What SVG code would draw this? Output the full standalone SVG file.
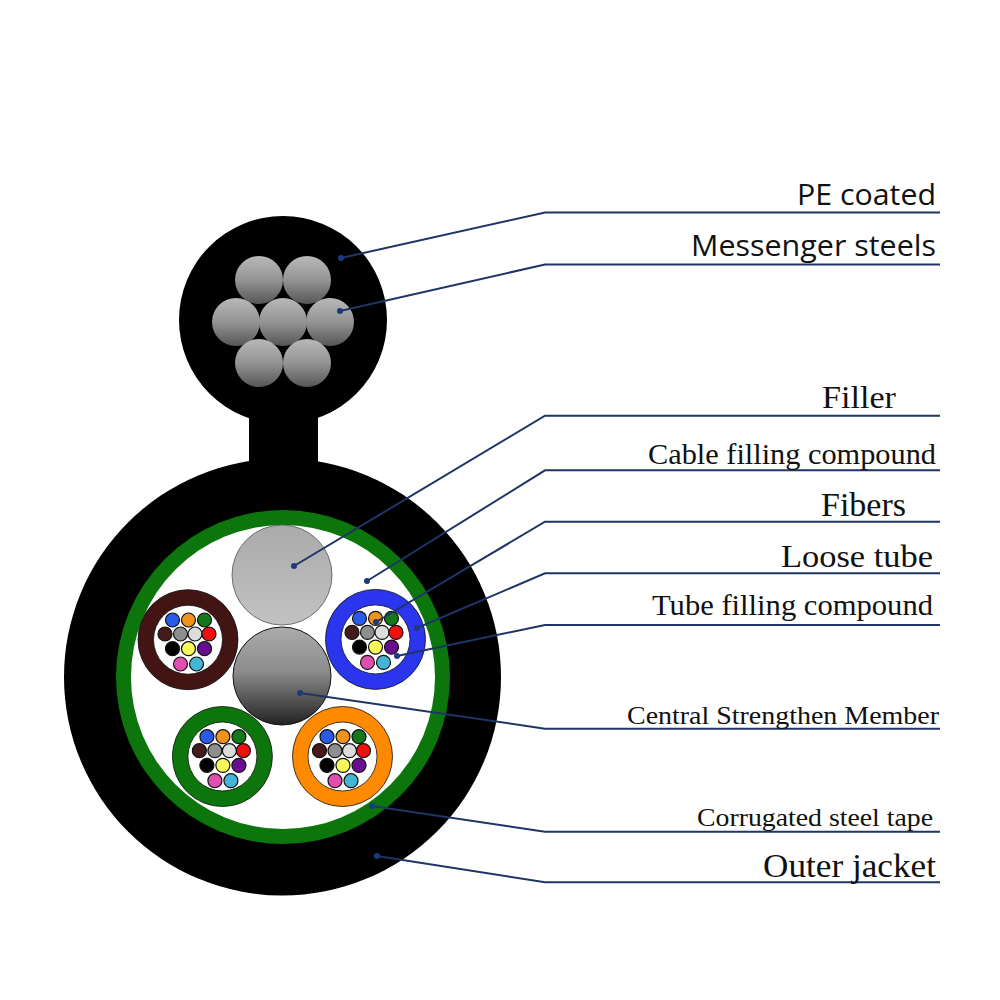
<svg xmlns="http://www.w3.org/2000/svg" width="1000" height="1000" viewBox="0 0 1000 1000">
<style>
.blk{fill:#000}
.ln{fill:none;stroke:#1e3566;stroke-width:2}
.dot{fill:#1e3a7c}
.f{stroke:#111;stroke-width:1.2}
.hole{fill:#fff;stroke:#111;stroke-width:0.8}
.rim{stroke:#111;stroke-width:0.8}
.s{font-family:"Open Sans","Noto Sans",sans-serif;fill:#111}
.t{font-family:"Liberation Serif","DejaVu Serif",serif;fill:#111}
</style>
<defs>
<linearGradient id="steel" x1="0" y1="0" x2="0" y2="1"><stop offset="0" stop-color="#b8b8b8"/><stop offset="0.5" stop-color="#949494"/><stop offset="1" stop-color="#565656"/></linearGradient>
<linearGradient id="csm" x1="0" y1="0" x2="0" y2="1"><stop offset="0" stop-color="#ababab"/><stop offset="0.45" stop-color="#8c8c8c"/><stop offset="1" stop-color="#222"/></linearGradient>
<linearGradient id="fill" x1="0" y1="0" x2="0" y2="1"><stop offset="0" stop-color="#aaa"/><stop offset="1" stop-color="#c2c2c2"/></linearGradient>
<g id="fibers">
<circle class="f" cx="-16" cy="-21" r="7" fill="#2a5be8"/>
<circle class="f" cx="0" cy="-21" r="7" fill="#f0931e"/>
<circle class="f" cx="16" cy="-21" r="7" fill="#12781a"/>
<circle class="f" cx="-23.5" cy="-7" r="7" fill="#451a1a"/>
<circle class="f" cx="-8" cy="-7" r="7" fill="#8e8e8e"/>
<circle class="f" cx="6.5" cy="-7" r="7" fill="#dcdcdc"/>
<circle class="f" cx="20.5" cy="-7" r="7" fill="#f01010"/>
<circle class="f" cx="-16" cy="7.7" r="7" fill="#000"/>
<circle class="f" cx="0" cy="7.7" r="7" fill="#f8f85a"/>
<circle class="f" cx="16" cy="7.7" r="7" fill="#680c90"/>
<circle class="f" cx="-8" cy="23" r="7" fill="#e04fb0"/>
<circle class="f" cx="8" cy="23" r="7" fill="#45b5d5"/>
</g>
</defs>
<rect width="1000" height="1000" fill="#fff"/>
<g id="messenger">
<circle class="blk" cx="283" cy="320" r="104"/>
<rect class="blk" x="249" y="410" width="69" height="70"/>
<g fill="url(#steel)">
<circle cx="259" cy="280" r="24"/><circle cx="307" cy="280" r="24"/>
<circle cx="236" cy="322" r="24"/><circle cx="283" cy="322" r="24"/><circle cx="330" cy="322" r="24"/>
<circle cx="259" cy="363" r="24"/><circle cx="307" cy="363" r="24"/>
</g>
</g>
<g id="cable">
<circle class="blk" cx="282.5" cy="677" r="218.5"/>
<circle cx="283" cy="677" r="167" fill="#0c760c"/>
<circle cx="283" cy="677" r="152" fill="#fff"/>
</g>
<g id="filler"><circle cx="282" cy="575" r="50" fill="url(#fill)" stroke="#555" stroke-width="0.8"/></g>
<g id="central-member"><circle cx="282" cy="676" r="49" fill="url(#csm)" stroke="#111" stroke-width="1"/></g>
<g id="tube-blue"><circle class="rim" cx="375.5" cy="639.4" r="50" fill="#2b35ee"/><circle class="hole" cx="375.5" cy="639.4" r="34.5"/><use href="#fibers" x="375.5" y="639.4"/></g>
<g id="tube-brown"><circle class="rim" cx="188" cy="639.7" r="50" fill="#431414"/><circle class="hole" cx="188" cy="639.7" r="34.5"/><use href="#fibers" x="188.5" y="641"/></g>
<g id="tube-green"><circle class="rim" cx="222.4" cy="756.5" r="50" fill="#0c760c"/><circle class="hole" cx="222.4" cy="756.5" r="34.5"/><use href="#fibers" x="222.9" y="757.7"/></g>
<g id="tube-orange"><circle class="rim" cx="342.5" cy="756.5" r="50" fill="#ff8a00"/><circle class="hole" cx="342.5" cy="756.5" r="34.5"/><use href="#fibers" x="343" y="757.7"/></g>
<g id="connectors">
<polyline class="ln" points="341,258 545,212.5 940,212.5"/><circle class="dot" cx="341" cy="258" r="3"/>
<polyline class="ln" points="340,311 545,264.5 940,264.5"/><circle class="dot" cx="340" cy="311" r="3"/>
<polyline class="ln" points="294,566 545,415.7 940,415.7"/><circle class="dot" cx="294" cy="566" r="3"/>
<polyline class="ln" points="367,581 545,470.3 940,470.3"/><circle class="dot" cx="367" cy="581" r="3"/>
<polyline class="ln" points="376,622 545,521.7 940,521.7"/><circle class="dot" cx="376" cy="622" r="3"/>
<polyline class="ln" points="417,628 545,573.3 940,573.3"/><circle class="dot" cx="417" cy="628" r="3"/>
<polyline class="ln" points="397,656 545,625 940,625"/><circle class="dot" cx="397" cy="656" r="3"/>
<polyline class="ln" points="300,693 545,728.7 940,728.7"/><circle class="dot" cx="300" cy="693" r="3"/>
<polyline class="ln" points="372,806 545,831.7 940,831.7"/><circle class="dot" cx="372" cy="806" r="3"/>
<polyline class="ln" points="377,856 545,882.3 940,882.3"/><circle class="dot" cx="377" cy="856" r="3"/>
</g>
<g id="labels">
<text class="s" x="797" y="205" font-size="29" textLength="139" lengthAdjust="spacingAndGlyphs">PE coated</text>
<text class="s" x="691" y="256" font-size="29" textLength="245" lengthAdjust="spacingAndGlyphs">Messenger steels</text>
<text class="t" x="822" y="408" font-size="31" textLength="74" lengthAdjust="spacingAndGlyphs">Filler</text>
<text class="t" x="648" y="464" font-size="30" textLength="288" lengthAdjust="spacingAndGlyphs">Cable filling compound</text>
<text class="t" x="821" y="516" font-size="33" textLength="85" lengthAdjust="spacingAndGlyphs">Fibers</text>
<text class="t" x="781" y="567" font-size="32" textLength="152" lengthAdjust="spacingAndGlyphs">Loose tube</text>
<text class="t" x="652" y="615" font-size="29" textLength="281" lengthAdjust="spacingAndGlyphs">Tube filling compound</text>
<text class="t" x="627" y="724" font-size="25" textLength="312" lengthAdjust="spacingAndGlyphs">Central Strengthen Member</text>
<text class="t" x="697" y="826" font-size="25" textLength="236" lengthAdjust="spacingAndGlyphs">Corrugated steel tape</text>
<text class="t" x="763" y="877" font-size="33" textLength="173" lengthAdjust="spacingAndGlyphs">Outer jacket</text>
</g>
</svg>
